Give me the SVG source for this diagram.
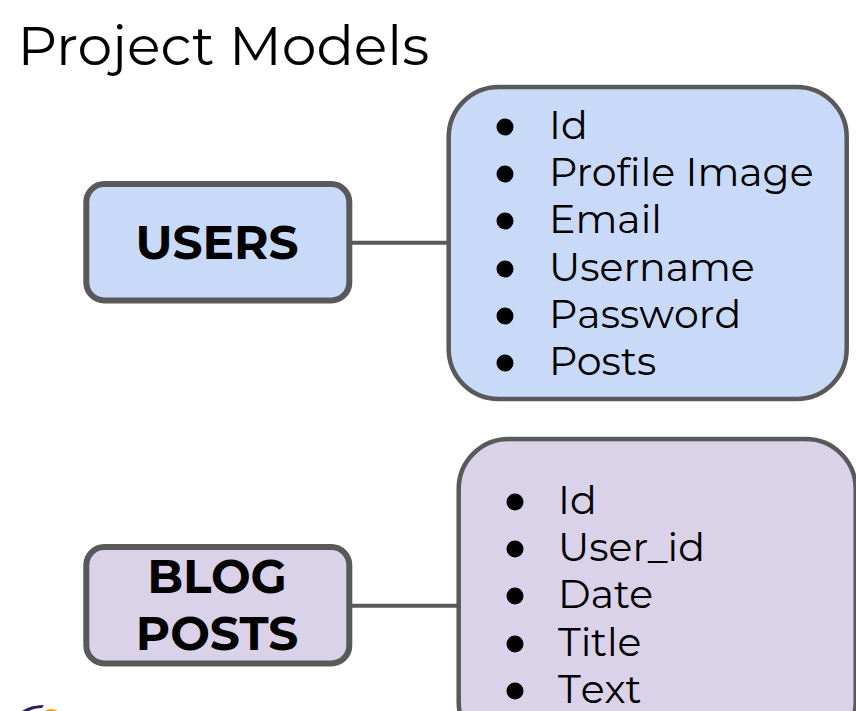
<svg xmlns="http://www.w3.org/2000/svg" width="856" height="711" viewBox="0 0 856 711">
<style>
text{font-family:"Montserrat","Inter","Open Sans",sans-serif;fill:#000}
.box{stroke:#595959;stroke-width:4.500}
.thick{stroke-width:6}
.blue{fill:#c9daf8}.purple{fill:#d9d2e9}
.head{font-size:47px;font-weight:700;text-anchor:middle}
.item{font-size:39.5px}
.nk{font-kerning:none}
.conn{stroke:#595959;stroke-width:4;fill:none}
</style>
<rect width="856" height="711" fill="#fff"/>
<text id="title" x="17.500" y="65" style="font-size:55.300px">Project Models</text>
<g id="connectors"><path class="conn" d="M350 242.700H448"/><path class="conn" d="M350 605.700H458"/></g>
<g id="users"><rect class="box thick blue" x="86.300" y="184" width="263" height="116.500" rx="18"/><text class="head" x="217" y="259">USERS</text></g>
<g id="users-fields"><rect class="box blue" x="448.700" y="87" width="398" height="312" rx="50"/>
<circle cx="505" cy="127" r="8.500"/><text class="item" x="549" y="139">Id</text>
<circle cx="505" cy="174" r="8.500"/><text class="item" x="549" y="186">Profile Image</text>
<circle cx="505" cy="221" r="8.500"/><text class="item" x="549" y="233">Email</text>
<circle cx="505" cy="269" r="8.500"/><text class="item" x="549" y="281">Username</text>
<circle cx="505" cy="316" r="8.500"/><text class="item nk" x="549" y="328">Password</text>
<circle cx="505" cy="363" r="8.500"/><text class="item" x="549" y="375">Posts</text></g>
<g id="blog-posts"><rect class="box thick purple" x="86.300" y="547" width="263" height="116.500" rx="18"/><text class="head" x="217" y="593">BLOG</text><text class="head" x="217" y="650">POSTS</text></g>
<g id="post-fields"><rect class="box purple" x="458.700" y="439" width="397" height="313" rx="50"/>
<circle cx="515" cy="502" r="8.500"/><text class="item" x="558" y="514">Id</text>
<circle cx="515" cy="549" r="8.500"/><text class="item" x="558" y="561">User_id</text>
<circle cx="515" cy="596" r="8.500"/><text class="item" x="558" y="608">Date</text>
<circle cx="515" cy="644" r="8.500"/><text class="item" x="558" y="656">Title</text>
<circle cx="515" cy="691" r="8.500"/><text class="item nk" x="558" y="703">Text</text></g>
<g id="logo"><path d="M22 711Q30 705 44 705L42 708Q34 708 29 711Z" fill="#2a1f5c"/><path d="M45 711Q50 707 58 711Z" fill="#f0a01e"/></g>
</svg>
